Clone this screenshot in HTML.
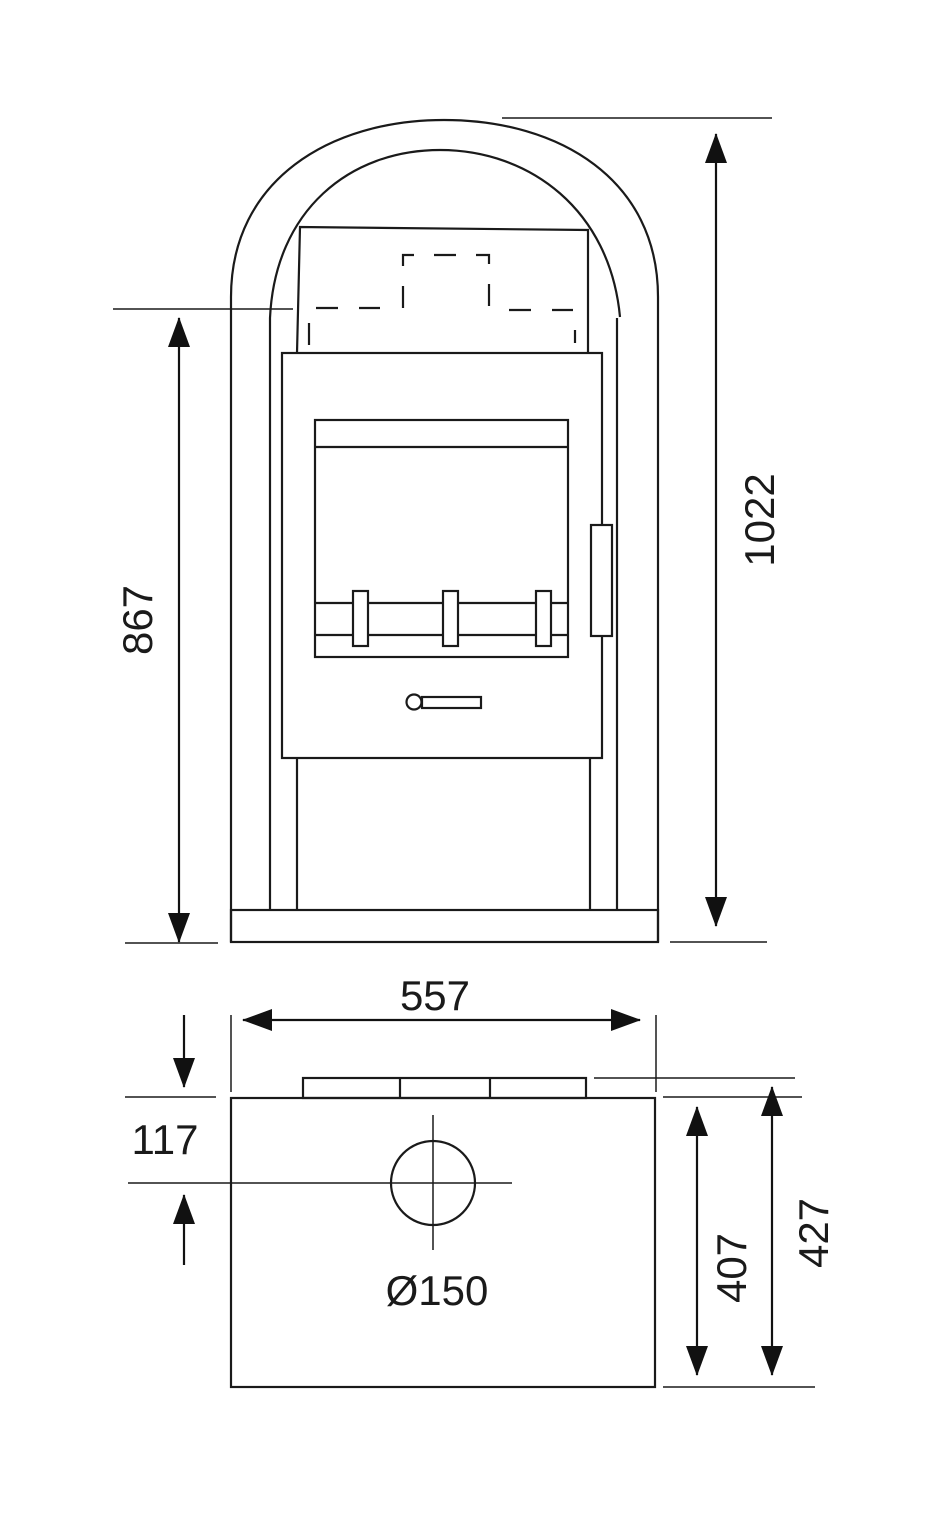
<!DOCTYPE html>
<html><head><style>body{margin:0;background:#fff}svg{display:block}</style></head><body>
<svg width="940" height="1515" viewBox="0 0 940 1515" xmlns="http://www.w3.org/2000/svg">
<defs>
<marker id="a" markerWidth="30" markerHeight="22" refX="29" refY="11" orient="auto-start-reverse" markerUnits="userSpaceOnUse" viewBox="0 0 30 22"><path d="M0,0 L30,11 L0,22z" fill="#111"/></marker>
</defs>
<g fill="none" stroke="#1a1a1a" stroke-width="2.2">
<path d="M231,942 L231,297 C231,180 330,120 444,120 C560,120 658,180 658,297 L658,942"/>
<path d="M270,910 L270,318 C275,210 350,150 440,150 C530,150 610,210 620,317"/>
<line x1="617" y1="318" x2="617" y2="910"/>
<path d="M297,353 L300,227 L588,230 L588,353"/>
<g stroke-dasharray="22,21">
<line x1="316" y1="308" x2="380" y2="308"/>
<line x1="509" y1="310" x2="573" y2="310"/>
</g>
<path d="M403,308 L403,255 L489,255 L489,308" stroke-dasharray="22,20"/>
<line x1="309" y1="323" x2="309" y2="345"/>
<line x1="575" y1="330" x2="575" y2="343"/>
<rect x="282" y="353" width="320" height="405"/>
<rect x="315" y="420" width="253" height="237"/>
<line x1="315" y1="447" x2="568" y2="447"/>
<line x1="315" y1="603" x2="568" y2="603"/>
<line x1="315" y1="635" x2="568" y2="635"/>
<rect x="353" y="591" width="15" height="55" fill="#fff"/>
<rect x="443" y="591" width="15" height="55" fill="#fff"/>
<rect x="536" y="591" width="15" height="55" fill="#fff"/>
<rect x="591" y="525" width="21" height="111" fill="#fff"/>
<circle cx="414" cy="702" r="7.5"/>
<rect x="422" y="697" width="59" height="11"/>
<path d="M297,758 L297,910 M590,758 L590,910"/>
<rect x="231" y="910" width="427" height="32"/>
<rect x="303" y="1078" width="283" height="20"/>
<line x1="400" y1="1078" x2="400" y2="1098"/>
<line x1="490" y1="1078" x2="490" y2="1098"/>
<rect x="231" y="1098" width="424" height="289"/>
<circle cx="433" cy="1183" r="42"/>
</g>
<g stroke="#1a1a1a" stroke-width="1.5" fill="none">
<line x1="113" y1="309" x2="293" y2="309"/>
<line x1="125" y1="943" x2="218" y2="943"/>
<line x1="502" y1="118" x2="772" y2="118"/>
<line x1="670" y1="942" x2="767" y2="942"/>
<line x1="231" y1="1015" x2="231" y2="1092"/>
<line x1="656" y1="1015" x2="656" y2="1092"/>
<line x1="594" y1="1078" x2="795" y2="1078"/>
<line x1="663" y1="1097" x2="802" y2="1097"/>
<line x1="125" y1="1097" x2="216" y2="1097"/>
<line x1="663" y1="1387" x2="815" y2="1387"/>
<line x1="128" y1="1183" x2="512" y2="1183"/>
<line x1="433" y1="1115" x2="433" y2="1250"/>
</g>
<g stroke="#111" stroke-width="2.2">
<line x1="179" y1="318" x2="179" y2="942" marker-start="url(#a)" marker-end="url(#a)"/>
<line x1="716" y1="134" x2="716" y2="926" marker-start="url(#a)" marker-end="url(#a)"/>
<line x1="243" y1="1020" x2="640" y2="1020" marker-start="url(#a)" marker-end="url(#a)"/>
<line x1="184" y1="1015" x2="184" y2="1087" marker-end="url(#a)"/>
<line x1="184" y1="1265" x2="184" y2="1195" marker-end="url(#a)"/>
<line x1="697" y1="1107" x2="697" y2="1375" marker-start="url(#a)" marker-end="url(#a)"/>
<line x1="772" y1="1087" x2="772" y2="1375" marker-start="url(#a)" marker-end="url(#a)"/>
</g>
<g font-family="'Liberation Sans',sans-serif" font-size="42" fill="#1a1a1a" text-anchor="middle">
<text x="435" y="1010">557</text>
<text x="165" y="1154">117</text>
<text x="437" y="1305">Ø150</text>
<text transform="translate(152,620) rotate(-90)">867</text>
<text transform="translate(774,520) rotate(-90)">1022</text>
<text transform="translate(746,1268) rotate(-90)">407</text>
<text transform="translate(828,1233) rotate(-90)">427</text>
</g>
</svg>
</body></html>
